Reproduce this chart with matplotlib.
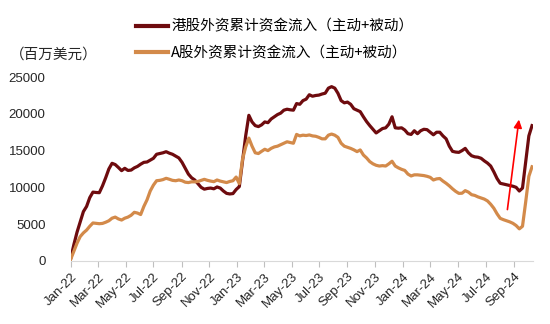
import pandas as pd
import matplotlib
matplotlib.use('Agg')
import matplotlib.pyplot as plt
import matplotlib.dates as mdates

plt.rcParams['font.family'] = ['Liberation Sans', 'Noto Sans CJK SC', 'DejaVu Sans']
plt.rcParams['axes.unicode_minus'] = False

# 周度数据，2021-12-31 起
start_date = '2021-12-31'
hk_flow = [
    300, 2200, 3900, 5300, 6700, 7400, 8600, 9350, 9300, 9270,
    10200, 11300, 12500, 13270, 13100, 12700, 12270, 12590, 12300, 12350,
    12650, 12850, 13150, 13400, 13450, 13700, 13950, 14500, 14600, 14700,
    14850, 14650, 14500, 14250, 14000, 13400, 12600, 11800, 11300, 11000,
    10500, 10000, 9750, 9850, 9900, 9800, 10050, 9900, 9500, 9180,
    9100, 9150, 9700, 10100, 13500, 17000, 19800, 18900, 18400, 18270,
    18500, 18900, 18800, 19300, 19600, 19900, 20100, 20500, 20630, 20550,
    20500, 21400, 21300, 21800, 22000, 22600, 22400, 22500, 22550, 22700,
    22810, 23500, 23700, 23500, 22800, 21800, 21500, 21600, 21300, 20700,
    20500, 20300, 19600, 18950, 18400, 17900, 17400, 17700, 18000, 18100,
    18600, 19600, 18100, 18050, 18100, 17800, 17300, 17200, 17700, 17300,
    17700, 17900, 17850, 17500, 17150, 17500, 17500, 17000, 16600, 15600,
    14900, 14800, 14760, 15000, 15300, 14700, 14300, 14150, 14100, 13950,
    13600, 13300, 12900, 12100, 11200, 10550, 10450, 10350, 10250, 10150,
    10000, 9500, 9900, 13500, 17000, 18400,
]
a_flow = [
    200, 1300, 2400, 3300, 3800, 4180, 4700, 5150, 5100, 5050,
    5090, 5250, 5450, 5800, 5950, 5700, 5550, 5800, 5950, 6200,
    6600, 6500, 6300, 7400, 8300, 9500, 10300, 10900, 10950, 11050,
    11230, 11100, 10950, 10900, 11000, 10900, 10700, 10650, 10750, 10750,
    10800, 10950, 11090, 10950, 10850, 10770, 11000, 10850, 10750, 10650,
    10800, 10900, 11400, 10500, 13800, 15500, 16700, 15600, 14700, 14600,
    14900, 15180, 15000, 15300, 15500, 15600, 15800, 16000, 16200, 16100,
    16000, 17200, 17000, 17100, 17050, 17130, 17000, 16950, 16800, 16600,
    16600, 17100, 17250, 17100, 16800, 16000, 15600, 15450, 15300, 15100,
    14860, 15090, 14400, 14000, 13500, 13200, 13000, 12900, 12950, 12900,
    13200, 13550, 12900, 12650, 12450, 12300, 11800, 11550, 11700, 11700,
    11650, 11600, 11500, 11360, 11000, 11150, 11200, 10850, 10550, 10200,
    9800, 9450, 9180, 9200, 9550, 9350, 9000, 8900, 8700, 8550,
    8400, 8150, 7700, 7150, 6400, 5780, 5600, 5450, 5300, 5100,
    4800, 4350, 4700, 8000, 11500, 12800,
]
dates = pd.date_range(start_date, periods=len(hk_flow), freq='7D')

fig = plt.figure(figsize=(5.5, 3.24), dpi=100)
ax = fig.add_axes([0.1285, 0.195, 0.8405, 0.567])

l1, = ax.plot(dates, hk_flow, color='#6E0B0E', lw=2.3, solid_joinstyle='round')
l2, = ax.plot(dates, a_flow, color='#D38A4A', lw=2.3, solid_joinstyle='round')

ax.set_ylim(0, 25000)
ax.set_yticks(range(0, 25001, 5000))
ax.set_xlim(dates[0], dates[-1] + pd.Timedelta(days=2))
ax.xaxis.set_major_locator(mdates.MonthLocator(bymonth=[1, 3, 5, 7, 9, 11]))
ax.xaxis.set_major_formatter(mdates.DateFormatter('%b-%y'))
plt.setp(ax.get_xticklabels(), rotation=45, ha='right', rotation_mode='anchor')
ax.tick_params(axis='x', colors='#BFBFBF', labelcolor='#262626', labelsize=9.5, length=4, pad=3)
ax.tick_params(axis='y', length=0, labelsize=9.5, labelcolor='#262626', pad=18)

for s in ['top', 'right', 'left']:
    ax.spines[s].set_visible(False)
ax.spines['bottom'].set_color('#D9D9D9')

fig.text(0.018, 0.83, '（百万美元）', fontsize=10.5, color='#262626', va='center',
         family=['Noto Sans CJK SC', 'DejaVu Sans'])

fig.legend([l1, l2], ['港股外资累计资金流入（主动+被动）', 'A股外资累计资金流入（主动+被动）'],
           loc='upper left', bbox_to_anchor=(0.224, 0.98), frameon=False,
           handlelength=2.2, handletextpad=0.2, labelspacing=0.85,
           prop={'family': ['Noto Sans CJK SC', 'DejaVu Sans'], 'size': 10.5})
for h in fig.legends[0].get_lines():
    h.set_linewidth(3)

# 红色箭头
ax.annotate('', xy=(pd.Timestamp('2024-09-13'), 19600), xytext=(pd.Timestamp('2024-08-17'), 6600),
            arrowprops=dict(arrowstyle='-|>', color='red', lw=1.2, mutation_scale=12))

fig.savefig('out.png', dpi=100)
